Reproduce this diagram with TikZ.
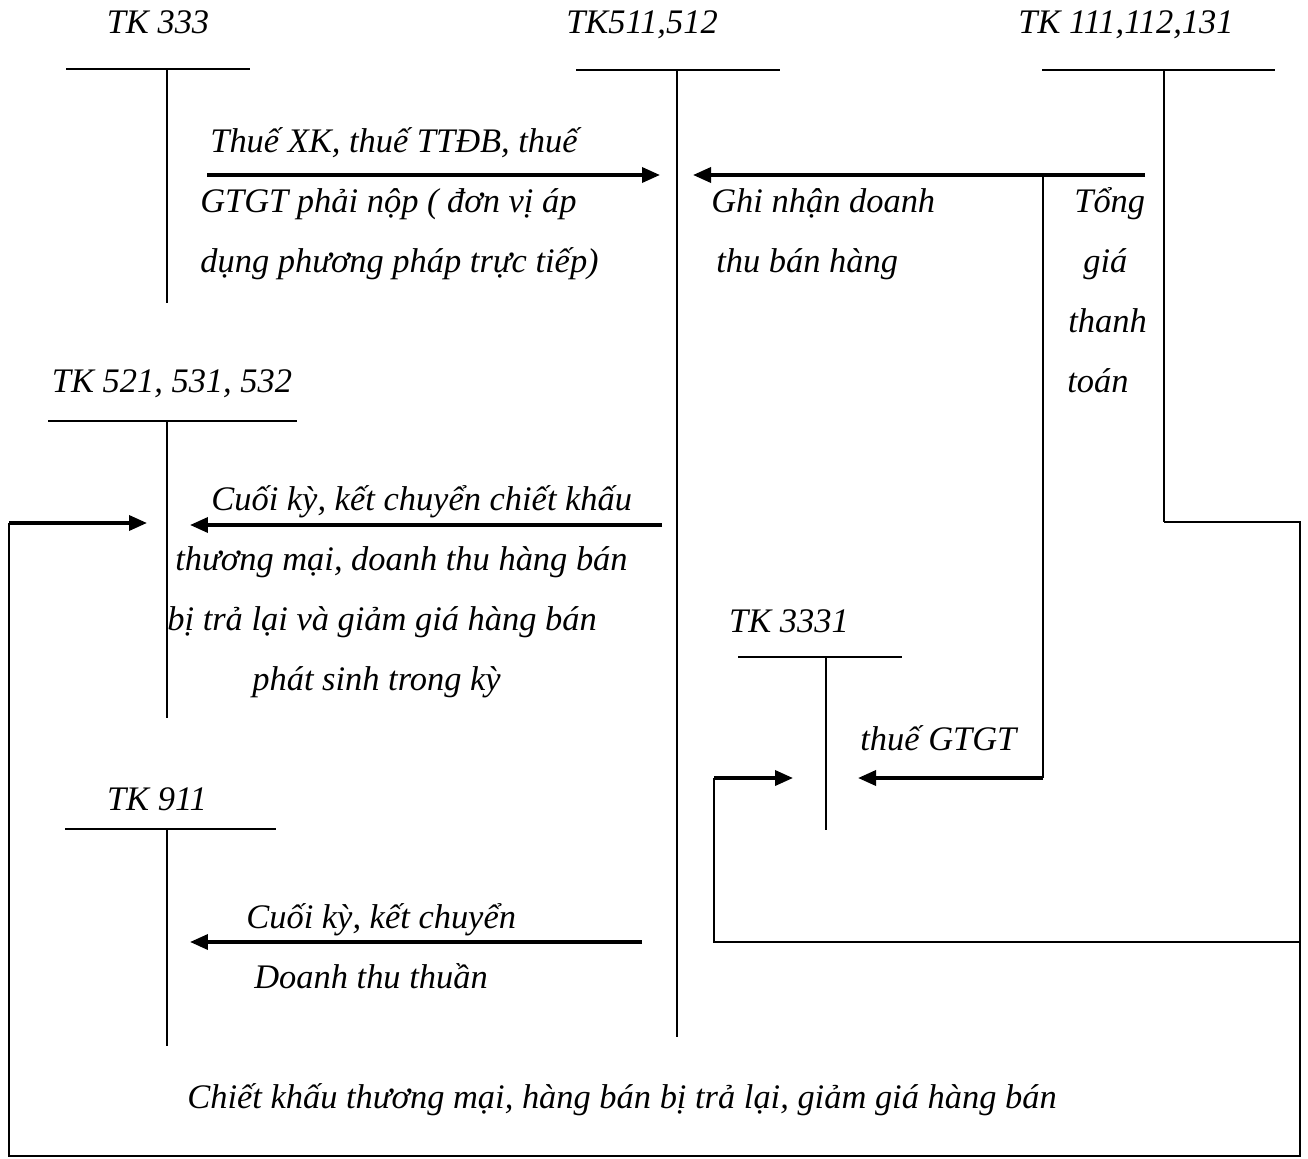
\documentclass[tikz,border=0pt]{standalone}
\usepackage{fontspec}
\setmainfont{Liberation Serif}
\usetikzlibrary{arrows.meta}

\begin{document}
\begin{tikzpicture}[x=0.02cm, y=-0.02cm,
  txt/.style={font=\fontsize{19.6}{24}\selectfont\itshape, inner sep=0pt, anchor=base west},
  ttl/.style={txt, anchor=base},
  tacc/.style={line width=1.4pt},
  arr/.style={-{Triangle[length=0.36cm,width=0.3cm]}, line width=2pt},
  wire/.style={line width=1.3pt}]
\useasboundingbox (0,0) rectangle (1308,1159);

% account titles
\node[ttl] (tk333) at (158,34) {TK 333};
\node[ttl] (tk511) at (642,34) {TK511,512};
\node[ttl] (tk111) at (1126,34) {TK 111,112,131};
\node[ttl] (tk521) at (172,392) {TK 521, 531, 532};
\node[ttl] (tk3331) at (789,632) {TK 3331};
\node[ttl] (tk911) at (157,810) {TK 911};

% T shapes: stem x / top y / left / right / bottom
\foreach \sx/\ty/\lx/\rx/\by in {167/69/66/250/303, 677/70/576/780/1037, 1164/70/1042/1275/522,
    167/421/48/297/718, 826/657/738/902/830, 167/829/65/276/1046}
  \draw[tacc] (\lx,\ty) -- (\rx,\ty) (\sx,\ty) -- (\sx,\by);

% connector ends
\coordinate (taxS) at (207,175);   \coordinate (taxE) at (660,175);
\coordinate (revS) at (1145,175);  \coordinate (revE) at (693,175);
\coordinate (vatK) at (1043,175);  \coordinate (vatC) at (1043,778);
\coordinate (vatE) at (858,778);
\coordinate (dedS) at (662,525);   \coordinate (dedE) at (190,525);
\coordinate (netS) at (642,942);   \coordinate (netE) at (190,942);
\coordinate (cashK) at (1164,522); \coordinate (cashA) at (1300,522);
\coordinate (cashB) at (1300,1156); \coordinate (cashC) at (9,1156);
\coordinate (cashD) at (9,523);    \coordinate (cashE) at (147,523);
\coordinate (backK) at (1300,942); \coordinate (backA) at (714,942);
\coordinate (backB) at (714,778);  \coordinate (backE) at (793,778);

\draw[arr] (taxS) -- (taxE);
\draw[arr] (revS) -- (revE);
\draw[wire] (vatK) -- (vatC);
\draw[arr] (vatC) -- (vatE);
\draw[arr] (dedS) -- (dedE);
\draw[arr] (netS) -- (netE);
\draw[wire] (cashK) -- (cashA) -- (cashB) -- (cashC) -- (cashD);
\draw[arr] (cashD) -- (cashE);
\draw[wire] (backK) -- (backA) -- (backB);
\draw[arr] (backB) -- (backE);

% labels
\node[txt] (taxa) at (210,153) {Thuế XK, thuế TTĐB, thuế};
\node[txt] (taxb) at (200,212) {GTGT phải nộp ( đơn vị áp};
\node[txt] (taxc) at (200,272) {dụng phương pháp trực tiếp)};
\node[txt] (reva) at (711,212) {Ghi nhận doanh};
\node[txt] (revb) at (716,272) {thu bán hàng};
\node[txt] (tota) at (1074,212) {Tổng};
\node[txt] (totb) at (1083,272) {giá};
\node[txt] (totc) at (1068,332) {thanh};
\node[txt] (totd) at (1067,392) {toán};
\node[txt] (deda) at (211,510) {Cuối kỳ, kết chuyển chiết khấu};
\node[txt] (dedb) at (175,570) {thương mại, doanh thu hàng bán};
\node[txt] (dedc) at (167,630) {bị trả lại và giảm giá hàng bán};
\node[txt] (dedd) at (252,690) {phát sinh trong kỳ};
\node[txt] (vat) at (860,750) {thuế GTGT};
\node[txt] (neta) at (246,928) {Cuối kỳ, kết chuyển};
\node[txt] (netb) at (254,988) {Doanh thu thuần};
\node[txt] (cash) at (187,1108) {Chiết khấu thương mại, hàng bán bị trả lại, giảm giá hàng bán};
\end{tikzpicture}
\end{document}
